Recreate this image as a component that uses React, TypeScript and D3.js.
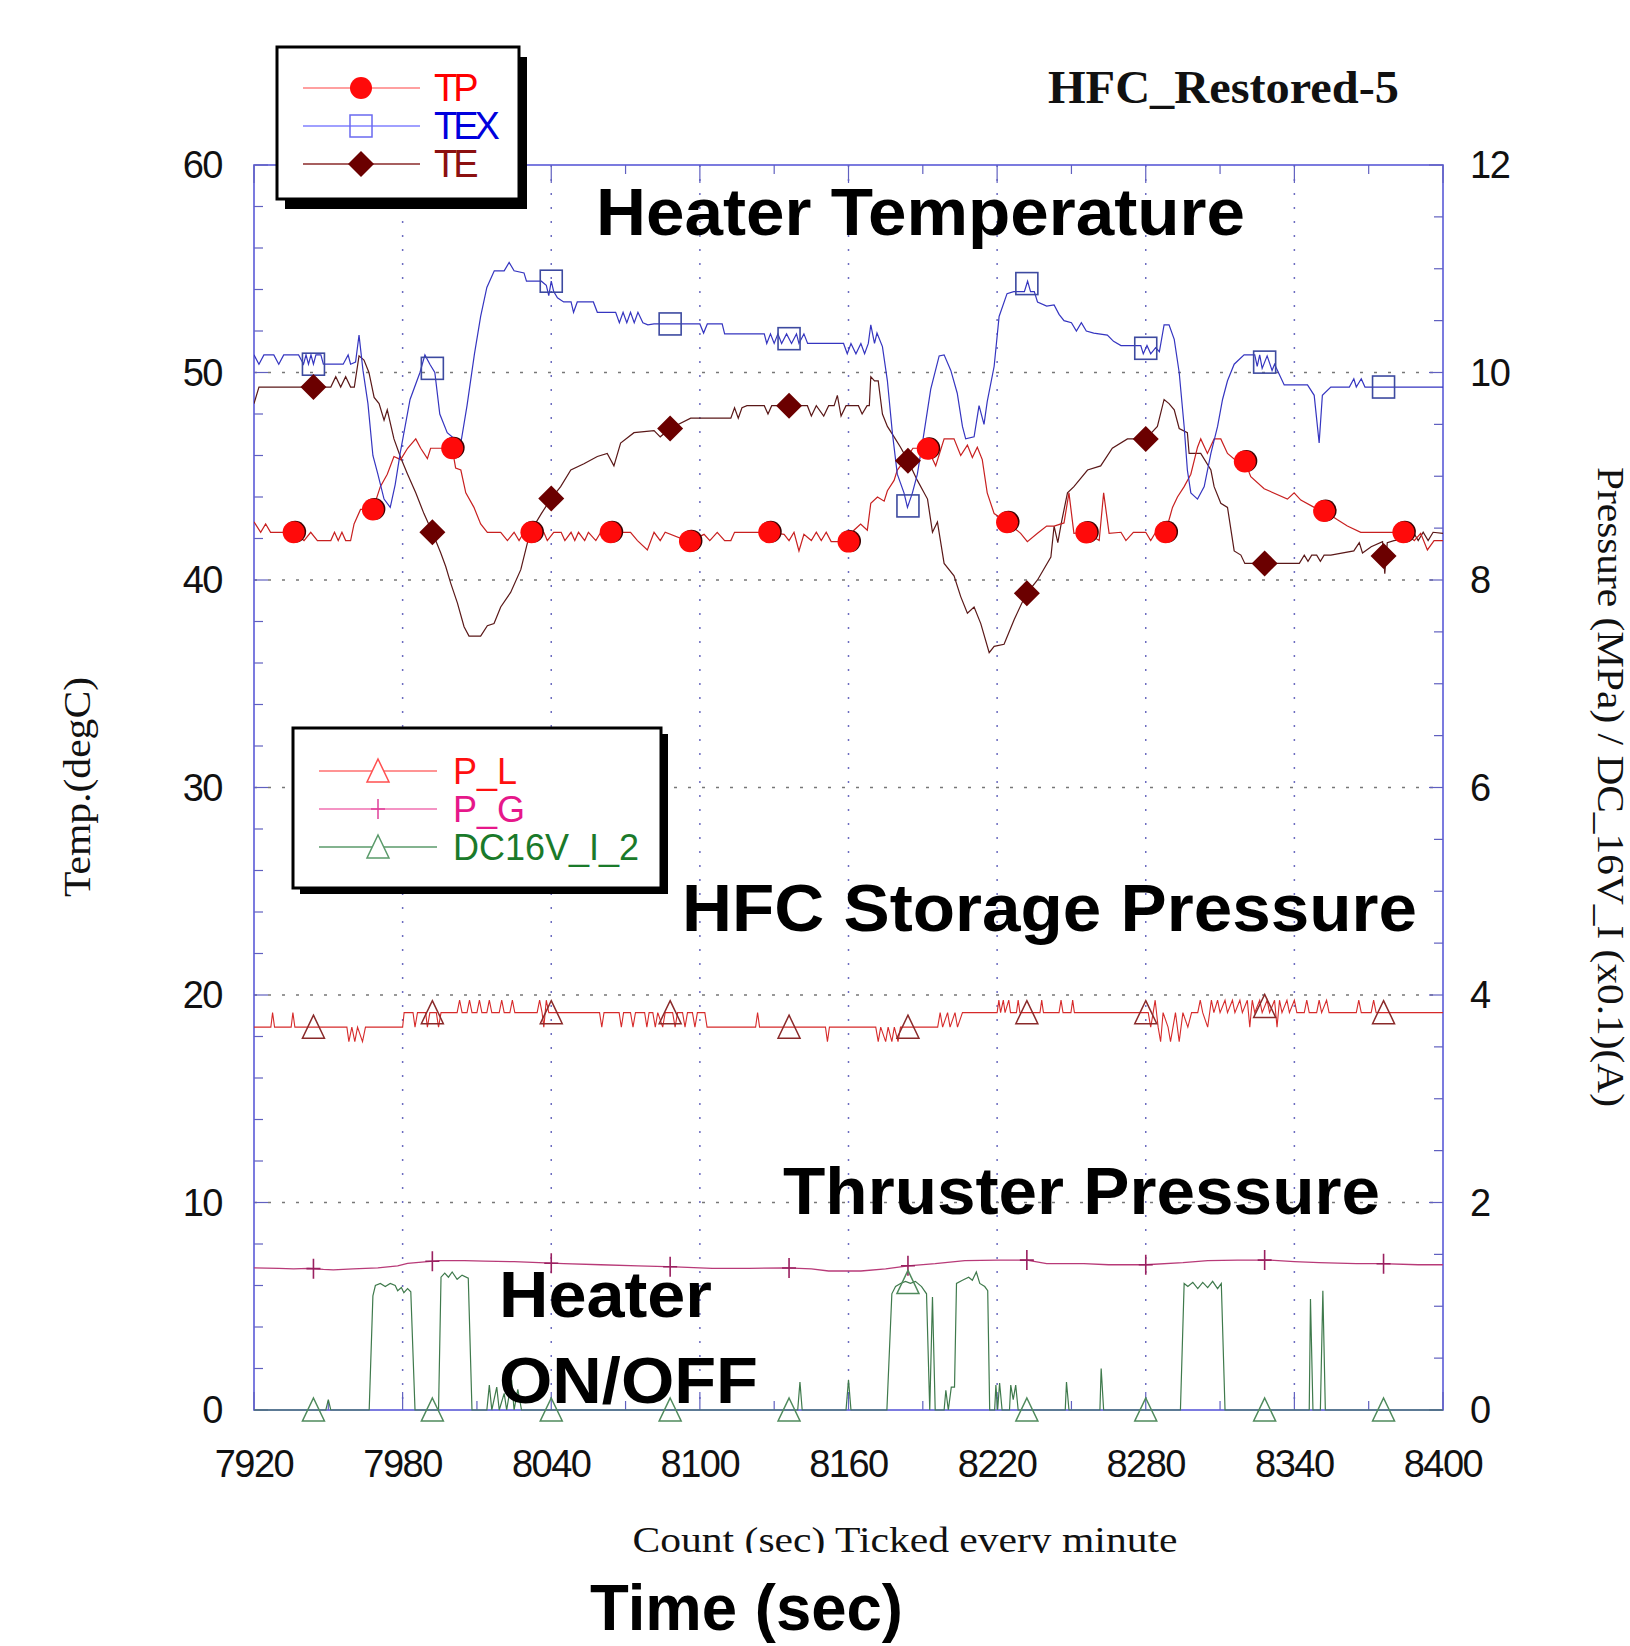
import React from "react";
import * as d3 from "d3";

const W = 1630;
const H = 1646;
const plot = { left: 254, right: 1443, top: 165, bottom: 1410 };

const xTicks = [7920, 7980, 8040, 8100, 8160, 8220, 8280, 8340, 8400];
const yLeftTicks = [0, 10, 20, 30, 40, 50, 60];
const yRightTicks = [0, 2, 4, 6, 8, 10, 12];

// marker times
const tpMarkTimes = [7936, 7968, 8000, 8032, 8064, 8096, 8128, 8160, 8192, 8224, 8256, 8288, 8320, 8352, 8384];
const markTimes = [7944, 7992, 8040, 8088, 8136, 8184, 8232, 8280, 8328, 8376];

type Pt = [number, number];

// TEX (degC)
const texSeries: Pt[] = [
  [7920, 50.85], [7922, 50.4], [7924, 50.85], [7928, 50.85], [7930, 50.4], [7932, 50.85], [7938, 50.85],
  [7940, 50.4], [7941, 50.85], [7942, 50.4], [7943, 50.85], [7944, 50.4], [7945, 50.85], [7947, 50.85],
  [7948, 50.4], [7956, 50.4], [7958, 50.85], [7959, 50.4], [7961, 50.5], [7962.4, 51.8], [7964, 50.1],
  [7966, 48.5], [7968, 46.0], [7970, 45.1], [7972.5, 43.9], [7975, 43.5], [7977, 44.6], [7979, 46.1],
  [7983, 48.7], [7987, 50.0], [7989, 50.85], [7991, 50.4], [7993, 50.0], [7995, 48.0], [7998, 47.1],
  [8001, 46.8], [8003.5, 46.6], [8006, 48.4], [8009, 50.9], [8011.5, 52.7], [8014, 54.1], [8017, 54.9],
  [8021, 54.9], [8023, 55.3], [8025, 54.9], [8029, 54.8], [8030, 54.4], [8036, 54.4], [8038, 54.2],
  [8039, 53.7], [8040, 54.4], [8041, 53.9], [8042.5, 53.6], [8045, 53.4], [8048, 53.4], [8049, 52.9],
  [8050.5, 53.4], [8057, 53.4], [8058.6, 52.9], [8066, 52.9], [8067.5, 52.4], [8069, 52.9], [8070.5, 52.4],
  [8072, 52.9], [8073.5, 52.4], [8075, 52.9], [8077, 52.4], [8079, 52.3], [8081.5, 52.34], [8100, 52.34],
  [8101.5, 51.9], [8103, 52.34], [8109, 52.34], [8110, 51.86], [8126, 51.86], [8127, 51.4], [8128.5, 51.86],
  [8130, 51.4], [8131.5, 51.86], [8133, 51.4], [8135, 51.86], [8137, 51.4], [8139, 51.86], [8140, 51.4],
  [8142, 51.86], [8143.5, 51.4], [8158, 51.4], [8159.5, 50.9], [8161, 51.4], [8163, 50.9], [8165, 51.4],
  [8166.5, 50.9], [8168, 51.4], [8169, 52.3], [8170.5, 51.4], [8171.5, 51.9], [8173.7, 51.25],
  [8175.7, 49.6], [8177.7, 47.1], [8179.7, 45.1], [8182.4, 44.2], [8183.8, 43.5], [8185.8, 44.2],
  [8187.8, 45.1], [8190.5, 47.1], [8193.2, 49.2], [8196.6, 50.8], [8198.6, 50.85], [8201.3, 50.1],
  [8203.9, 49.0], [8206, 47.4], [8207.3, 46.8], [8210.7, 46.9], [8212.7, 48.4], [8214.7, 47.5],
  [8216, 48.6], [8218.8, 50.3], [8220.8, 52.7], [8224, 53.8], [8226.7, 53.9], [8231, 53.9], [8232.3, 54.4],
  [8233.5, 53.9], [8235, 53.9], [8236.3, 53.4], [8240, 53.2], [8243, 53.26], [8245, 52.8], [8247, 52.5],
  [8250, 52.4], [8252, 52.0], [8254, 52.4], [8256, 52.0], [8259, 51.9], [8264.5, 51.8], [8267, 51.5],
  [8270, 51.3], [8278, 51.3], [8279, 50.9], [8280.5, 51.3], [8282, 50.9], [8284, 51.2], [8285.5, 51.0],
  [8287.4, 52.3], [8289.4, 52.3], [8291.5, 51.6], [8293.5, 50.0], [8295.5, 47.4], [8296.8, 45.3],
  [8298.2, 44.2], [8300.9, 43.9], [8303.6, 44.5], [8306.3, 46.1], [8309, 47.4], [8311, 48.7], [8313, 49.6],
  [8315.7, 50.4], [8319.7, 50.85], [8324, 50.85], [8325, 50.3], [8326, 50.85], [8327, 50.2], [8329, 50.8],
  [8331, 50.1], [8332, 50.4], [8335.9, 49.4], [8345.3, 49.4], [8348, 48.9], [8350, 46.6], [8351.3, 48.9],
  [8354.7, 49.3], [8362.2, 49.3], [8364, 49.7], [8365, 49.3], [8367, 49.7], [8368.5, 49.3], [8400, 49.3],
];

// TE (degC)
const teSeries: Pt[] = [
  [7920, 48.5], [7922, 49.3], [7951, 49.3], [7953, 49.8], [7955, 49.3], [7957, 49.8], [7959, 49.3],
  [7960.5, 49.3], [7962.4, 50.8], [7964.4, 50.6], [7966.4, 50.0], [7968.5, 48.8], [7970.5, 48.5],
  [7972.5, 47.7], [7973.8, 48.2], [7976.5, 46.8], [7979.2, 45.9], [7982, 45.1], [7985.3, 44.2],
  [7988.6, 43.2], [7992, 42.3], [7995.4, 41.3], [7997.4, 40.65], [7999.4, 39.85], [8002.1, 38.9],
  [8004.8, 37.75], [8006.8, 37.3], [8011.5, 37.3], [8014.2, 37.8], [8016.9, 37.9], [8019.6, 38.7],
  [8023.6, 39.4], [8027.7, 40.5], [8030.4, 41.8], [8033, 42.6], [8036, 43.2], [8039.8, 43.9],
  [8043.8, 44.5], [8047.9, 45.3], [8053.2, 45.6], [8058.6, 45.95], [8062.6, 46.1], [8065.3, 45.5],
  [8068, 46.6], [8073.4, 47.1], [8081.5, 47.2], [8084, 46.9], [8088, 47.3], [8096.3, 47.8], [8112.5, 47.8],
  [8114, 48.3], [8115.5, 47.8], [8117, 48.3], [8119, 48.4], [8126, 48.4], [8127.5, 48.0], [8129, 48.4],
  [8143.4, 48.4], [8145, 47.9], [8147, 48.4], [8150, 47.9], [8152, 48.4], [8154.2, 48.4], [8155.5, 48.9],
  [8157, 47.9], [8159, 48.4], [8164, 48.4], [8165.5, 48.0], [8167.5, 48.4], [8168.4, 48.4], [8169, 49.8],
  [8170.5, 49.6], [8172, 49.6], [8173.7, 48.0], [8175.7, 47.4], [8178.4, 46.9], [8181, 46.4],
  [8183.8, 45.8], [8187.8, 44.8], [8191.9, 43.9], [8193.9, 42.3], [8195.9, 42.8], [8198.6, 40.8],
  [8202.6, 40.2], [8205.3, 39.2], [8208, 38.4], [8210.7, 38.7], [8213.4, 37.9], [8216.8, 36.5],
  [8218.8, 36.8], [8222.8, 36.9], [8226.9, 38.1], [8231.6, 39.3], [8236.3, 40.0], [8241.7, 41.1],
  [8243, 42.6], [8244.5, 41.8], [8246, 42.8], [8248.4, 44.2], [8251, 44.5], [8256.5, 45.3],
  [8261.8, 45.5], [8266.5, 46.35], [8272.6, 46.8], [8280, 46.8], [8284.7, 47.4], [8287.4, 48.7],
  [8289.4, 48.5], [8291.5, 48.2], [8293.5, 47.3], [8296.8, 47.1], [8297.5, 46.1], [8302.2, 46.1],
  [8306.3, 45.3], [8307.6, 44.5], [8310.3, 43.7], [8313, 43.5], [8315.7, 41.4], [8318.4, 41.2],
  [8320, 40.8], [8342, 40.8], [8344, 41.2], [8345.5, 40.9], [8347, 41.2], [8349, 41.2], [8350.5, 40.9],
  [8352, 41.2], [8354.7, 41.2], [8364, 41.4], [8366.2, 41.8], [8367.5, 41.3], [8371, 41.6],
  [8375.6, 41.85], [8376.5, 40.3], [8377.5, 41.8], [8380.2, 41.9], [8385.6, 42.0], [8388, 42.3],
  [8390, 41.9], [8392, 42.3], [8394, 41.9], [8396, 42.3], [8400, 42.25],
];

// TP (degC)
const tpSeries: Pt[] = [
  [7920, 42.8], [7922.7, 42.3], [7924.7, 42.7], [7926.7, 42.3], [7936, 42.3], [7940.2, 41.9],
  [7942.9, 42.3], [7945.6, 41.9], [7951, 41.9], [7952.5, 42.3], [7954, 41.9], [7955.5, 42.3], [7957, 41.9],
  [7959, 41.9], [7960.4, 42.7], [7963, 43.4], [7968, 43.4], [7971, 44.5], [7973.8, 45.1], [7976.5, 45.95],
  [7979.2, 45.8], [7982, 46.35], [7985.3, 46.8], [7987.3, 46.35], [7990, 45.85], [7991.3, 46.35],
  [8000, 46.35], [8001.4, 45.4], [8003.5, 45.3], [8005.5, 44.2], [8008.8, 43.5], [8011.5, 42.7],
  [8014.2, 42.3], [8019.6, 42.3], [8022.3, 41.9], [8025, 42.3], [8027, 41.9], [8029, 42.3], [8037, 42.3],
  [8038.4, 41.9], [8041, 42.3], [8044, 42.3], [8045.5, 41.9], [8048, 42.3], [8049.5, 41.9], [8051, 42.3],
  [8053.5, 41.9], [8055, 42.3], [8058, 41.9], [8060, 42.3], [8072, 42.3], [8074.8, 41.9], [8078.8, 41.45],
  [8081.5, 42.3], [8084, 41.9], [8086, 42.3], [8095.6, 41.85], [8101.7, 42.2], [8104, 41.9], [8107, 42.3],
  [8110, 41.9], [8112.5, 41.9], [8114, 42.3], [8128, 42.3], [8134, 42.2], [8136, 41.9], [8138, 42.3],
  [8140, 41.4], [8142, 42.2], [8145, 41.9], [8147, 42.3], [8149, 41.9], [8151, 42.3], [8153, 41.85],
  [8160.2, 41.85], [8162.2, 42.4], [8164.9, 42.7], [8167.6, 42.4], [8169, 43.7], [8171.7, 44.0],
  [8174.4, 43.8], [8175.7, 44.3], [8178.4, 44.8], [8179.7, 45.3], [8183.8, 45.95], [8186, 46.35],
  [8191.9, 46.35], [8195.2, 45.5], [8198.6, 46.8], [8202.6, 46.8], [8205.3, 46.0], [8208, 46.5],
  [8210, 45.9], [8212, 46.4], [8214, 45.8], [8216, 44.2], [8218.8, 43.2], [8223.8, 42.8], [8229.5, 42.25],
  [8232.2, 41.85], [8236.3, 42.25], [8240, 42.6], [8243, 42.6], [8247, 42.75], [8249, 44.2], [8251, 42.25],
  [8255.8, 42.3], [8261.2, 41.9], [8263, 44.2], [8265.2, 42.25], [8270, 42.3], [8272, 41.9], [8275, 42.3],
  [8280, 42.3], [8282, 41.9], [8284, 42.3], [8288, 42.3], [8290.8, 43.5], [8292.8, 44.0], [8295.5, 44.5],
  [8298.2, 45.1], [8300.9, 46.4], [8302.2, 46.8], [8304.9, 46.1], [8307.6, 46.8], [8310.3, 46.8],
  [8313, 46.1], [8316, 45.8], [8319.7, 45.8], [8322.4, 44.98], [8327.8, 44.4], [8337.2, 43.9],
  [8339.9, 44.2], [8342.6, 43.85], [8348, 43.5], [8351.7, 43.35], [8357.4, 42.9], [8361.4, 42.6],
  [8366.8, 42.3], [8384.6, 42.3], [8388.4, 41.9], [8391, 42.25], [8393.7, 41.45], [8396.4, 41.9],
  [8400, 41.9],
];

// P_L (MPa)
const plSeries: Pt[] = [
  [7920, 3.69], [7926.8, 3.69], [7927.5, 3.83], [7928.3, 3.69], [7935, 3.69], [7935.7, 3.83], [7936.5, 3.69],
  [7957.5, 3.69], [7958.3, 3.55], [7959.5, 3.69], [7960.7, 3.55], [7961.8, 3.69], [7963.8, 3.55], [7965, 3.69],
  [7980, 3.69], [7980.6, 3.83], [7984.2, 3.83], [7985, 3.69], [7986, 3.83], [7989.3, 3.83], [7990, 3.69],
  [7991, 3.83], [7993.6, 3.83], [7994.5, 3.69], [7995.5, 3.83], [8002, 3.83], [8003, 3.95], [8004, 3.83],
  [8006, 3.83], [8007, 3.95], [8008, 3.83], [8010, 3.83], [8011, 3.95], [8012, 3.83], [8014, 3.83],
  [8015, 3.95], [8016, 3.83], [8019, 3.83], [8020, 3.95], [8021, 3.83], [8023.3, 3.83], [8024.3, 3.95],
  [8025.3, 3.83], [8034.3, 3.83], [8035.3, 3.95], [8036.3, 3.83], [8037, 3.69], [8038, 3.95], [8039, 3.83],
  [8059.5, 3.83], [8060.4, 3.69], [8061.3, 3.83], [8067.4, 3.83], [8068.3, 3.69], [8069.2, 3.83],
  [8072, 3.83], [8073, 3.69], [8074, 3.83], [8077.7, 3.83], [8078.6, 3.69], [8079.5, 3.83], [8081, 3.83],
  [8082, 3.69], [8083, 3.83], [8085, 3.69], [8086, 3.83], [8089, 3.83], [8090, 3.69], [8091, 3.83],
  [8093, 3.83], [8094, 3.69], [8095, 3.83], [8097, 3.83], [8098, 3.69], [8099, 3.83], [8102, 3.83],
  [8102.9, 3.69], [8122.5, 3.69], [8123.3, 3.83], [8124.1, 3.69], [8150.7, 3.69], [8151.5, 3.55],
  [8152.3, 3.69], [8171, 3.69], [8172, 3.55], [8173, 3.69], [8175, 3.55], [8176, 3.69], [8177.5, 3.55],
  [8178.5, 3.69], [8180, 3.55], [8181, 3.69], [8196, 3.69], [8197, 3.83], [8198, 3.69], [8200, 3.83],
  [8201, 3.69], [8203, 3.83], [8204, 3.69], [8206, 3.83], [8220, 3.83], [8220.7, 3.95], [8221.4, 3.83],
  [8222.5, 3.95], [8223.2, 3.83], [8224.7, 3.95], [8225.4, 3.83], [8227.8, 3.83], [8228.5, 3.95],
  [8229.2, 3.83], [8237.3, 3.83], [8238, 3.95], [8238.7, 3.83], [8245, 3.83], [8245.8, 3.95], [8246.6, 3.83],
  [8249.8, 3.83], [8250.5, 3.95], [8251.2, 3.83], [8281, 3.83], [8282, 3.69], [8283, 3.83], [8283.8, 3.95],
  [8285, 3.69], [8286, 3.55], [8287, 3.83], [8289, 3.69], [8290, 3.55], [8292, 3.83], [8293.5, 3.55],
  [8295, 3.83], [8297, 3.69], [8298.5, 3.83], [8301, 3.83], [8302, 3.95], [8303, 3.83], [8305, 3.69],
  [8306.5, 3.95], [8307.5, 3.83], [8309, 3.95], [8310, 3.83], [8312, 3.95], [8313, 3.83], [8315, 3.95],
  [8316, 3.83], [8318, 3.95], [8319, 3.83], [8321, 3.95], [8322, 3.69], [8323, 3.95], [8324, 3.83],
  [8326, 3.95], [8327, 3.83], [8329, 3.95], [8330, 3.83], [8332, 3.95], [8333, 3.69], [8334, 3.95],
  [8335, 3.83], [8337, 3.95], [8338, 3.83], [8340, 3.95], [8341, 3.83], [8344, 3.83], [8345, 3.95],
  [8346, 3.83], [8349, 3.83], [8350, 3.95], [8351, 3.83], [8353, 3.95], [8354, 3.83], [8365, 3.83],
  [8366, 3.95], [8367, 3.83], [8371, 3.83], [8372, 3.95], [8373, 3.83], [8400, 3.83],
];

// P_G (MPa)
const pgSeries: Pt[] = [
  [7920, 1.37], [7930, 1.366], [7936, 1.36], [7942, 1.366], [7948, 1.355], [7952, 1.35], [7960, 1.36],
  [7970, 1.37], [7978, 1.39], [7982, 1.414], [7990, 1.43], [7995, 1.44], [8005, 1.44], [8013, 1.435],
  [8025, 1.43], [8035, 1.42], [8045, 1.41], [8060, 1.4], [8075, 1.39], [8090, 1.38], [8105, 1.366],
  [8120, 1.366], [8135, 1.37], [8145, 1.36], [8152, 1.34], [8165, 1.34], [8175, 1.36], [8184, 1.39],
  [8195, 1.41], [8207, 1.44], [8220, 1.445], [8232, 1.445], [8240, 1.41], [8255, 1.41], [8265, 1.4],
  [8280, 1.4], [8295, 1.42], [8305, 1.44], [8317, 1.445], [8330, 1.445], [8340, 1.43], [8350, 1.42],
  [8365, 1.41], [8375, 1.41], [8390, 1.4], [8400, 1.4],
];

// DC16V_I_2 (x0.1 A)
const dcSeries: Pt[] = [
  [7920, 0], [7949, 0], [7950, 0.1], [7951, 0], [7966.5, 0], [7968, 1.1], [7969, 1.2], [7971, 1.22],
  [7973, 1.19], [7975, 1.22], [7977, 1.2], [7978, 1.15], [7979.5, 1.18], [7980.5, 1.13], [7982, 1.17],
  [7983.3, 1.14], [7985, 0], [7994.5, 0], [7995.5, 1.28], [7997, 1.32], [7998.5, 1.28], [8000, 1.33],
  [8002, 1.26], [8004, 1.3], [8006.5, 1.27], [8008, 0], [8014, 0], [8015, 0.24], [8016, 0], [8018, 0.22],
  [8019, 0], [8021, 0.16], [8022, 0], [8024, 0.29], [8025, 0], [8026.5, 0.2], [8028, 0], [8139.5, 0],
  [8140.4, 0.27], [8141.3, 0], [8159, 0], [8160, 0.29], [8161, 0], [8175.5, 0], [8177.5, 1.12],
  [8179, 1.19], [8181, 1.22], [8183, 1.24], [8185, 1.22], [8187, 1.24], [8189.5, 1.19], [8191.5, 1.12],
  [8192.8, 0], [8193.9, 1.09], [8195, 0], [8198.6, 0], [8199.3, 0.19], [8200.3, 0], [8201.5, 0.22],
  [8202.8, 0.22], [8203.6, 1.22], [8206, 1.25], [8208.5, 1.28], [8210, 1.25], [8211.6, 1.33], [8213, 1.22],
  [8215, 1.19], [8216.2, 1.15], [8217, 0], [8219, 0], [8219.5, 0.24], [8220.2, 0], [8221, 0.26], [8222, 0],
  [8225, 0], [8225.5, 0.24], [8226.5, 0.1], [8227.5, 0.24], [8228.5, 0], [8247.5, 0], [8248, 0.27],
  [8249, 0], [8261.5, 0], [8262, 0.4], [8263, 0], [8294, 0], [8295.5, 1.22], [8297, 1.19], [8299, 1.23],
  [8301, 1.17], [8303, 1.23], [8305, 1.18], [8307, 1.24], [8309, 1.17], [8310.5, 1.22], [8312, 0],
  [8346, 0], [8346.5, 1.07], [8347.5, 0], [8350.5, 0], [8351.5, 1.15], [8352.5, 0], [8400, 0],
];

const x = d3.scaleLinear().domain([7920, 8400]).range([plot.left, plot.right]);
const yL = d3.scaleLinear().domain([0, 60]).range([plot.bottom, plot.top]);
const yR = d3.scaleLinear().domain([0, 12]).range([plot.bottom, plot.top]);

const bis = d3.bisector((d: Pt) => d[0]).left;
function valueAt(s: Pt[], t: number) {
  const i = bis(s, t);
  if (i <= 0) return s[0][1];
  if (i >= s.length) return s[s.length - 1][1];
  const a = s[i - 1];
  const b = s[i];
  return a[1] + ((t - a[0]) / (b[0] - a[0])) * (b[1] - a[1]);
}

const lineL = d3.line<Pt>().x((d) => x(d[0])).y((d) => yL(d[1]));
const lineR = d3.line<Pt>().x((d) => x(d[0])).y((d) => yR(d[1]));

const sans = "'Liberation Sans', Arial, Helvetica, sans-serif";
const serif = "'Liberation Serif', 'Times New Roman', serif";

const Circle = ({ cx, cy }: { cx: number; cy: number }) => (
  <g>
    <circle cx={cx + 1.5} cy={cy - 0.5} r={11} fill="#3a0000" />
    <circle cx={cx} cy={cy} r={11} fill="#ff0a0a" />
  </g>
);
const Square = ({ cx, cy }: { cx: number; cy: number }) => (
  <rect x={cx - 11} y={cy - 11} width={22} height={22} fill="none" stroke="#3d4aa0" strokeWidth={1.6} />
);
const Diamond = ({ cx, cy }: { cx: number; cy: number }) => (
  <path d={`M${cx},${cy - 13}L${cx + 13},${cy}L${cx},${cy + 13}L${cx - 13},${cy}Z`} fill="#6b0000" />
);
const Tri = ({ cx, cy, color }: { cx: number; cy: number; color: string }) => (
  <path d={`M${cx},${cy - 12}L${cx + 11},${cy + 11}L${cx - 11},${cy + 11}Z`} fill="none" stroke={color} strokeWidth={1.5} />
);
const Plus = ({ cx, cy, color }: { cx: number; cy: number; color: string }) => (
  <path d={`M${cx - 7},${cy}H${cx + 7}M${cx},${cy - 10}V${cy + 10}`} stroke={color} strokeWidth={1.6} fill="none" />
);

export default function App() {
  const minorLeft = d3.range(0, 61, 2);
  const minorRight = d3.range(0, 12.01, 0.5);
  const topTicks = d3.range(7920, 8401, 30);
  const gridX = xTicks.slice(1, -1);
  const gridY = yLeftTicks.slice(1, -1);

  return (
    <svg width={W} height={H} style={{ position: "absolute", left: 0, top: 0, background: "#fff" }}>
      <defs>
        <clipPath id="plotClip">
          <rect x={plot.left} y={plot.top - 20} width={plot.right - plot.left} height={plot.bottom - plot.top + 40} />
        </clipPath>
        <clipPath id="labelClip">
          <rect x={0} y={1500} width={W} height={53} />
        </clipPath>
      </defs>

      {/* grid */}
      {gridX.map((t) => (
        <line key={"gx" + t} x1={x(t)} x2={x(t)} y1={plot.top} y2={plot.bottom} stroke="#6c6cc0" strokeWidth={1.5} strokeDasharray="2 12" />
      ))}
      {gridY.map((v) => (
        <line key={"gy" + v} x1={plot.left} x2={plot.right} y1={yL(v)} y2={yL(v)} stroke="#777" strokeWidth={1.5} strokeDasharray="3 11" />
      ))}

      {/* frame + ticks */}
      <rect x={plot.left} y={plot.top} width={plot.right - plot.left} height={plot.bottom - plot.top} fill="none" stroke="#5a5ad8" strokeWidth={1.6} />
      {minorLeft.map((v) => (
        <line key={"ml" + v} x1={plot.left} x2={plot.left + (v % 10 === 0 ? 14 : 9)} y1={yL(v)} y2={yL(v)} stroke="#6060c0" strokeWidth={1.2} />
      ))}
      {minorRight.map((v) => (
        <line key={"mr" + v} x1={plot.right} x2={plot.right - (v % 2 === 0 ? 14 : 9)} y1={yR(v)} y2={yR(v)} stroke="#6060c0" strokeWidth={1.2} />
      ))}
      {topTicks.map((t) => (
        <g key={"tt" + t}>
          <line x1={x(t)} x2={x(t)} y1={plot.top} y2={plot.top + ((t - 7920) % 60 === 0 ? 18 : 9)} stroke="#6060c0" strokeWidth={1.2} />
          <line x1={x(t)} x2={x(t)} y1={plot.bottom} y2={plot.bottom - ((t - 7920) % 60 === 0 ? 18 : 9)} stroke="#6060c0" strokeWidth={1.2} />
        </g>
      ))}

      {/* series */}
      <g clipPath="url(#plotClip)">
        <path d={lineR(pgSeries) ?? ""} fill="none" stroke="#b83a78" strokeWidth={1.3} />
        <path d={lineR(plSeries) ?? ""} fill="none" stroke="#d62a2a" strokeWidth={1.1} />
        <path d={lineR(dcSeries) ?? ""} fill="none" stroke="#3f7a4c" strokeWidth={1.2} />
        <path d={lineL(teSeries) ?? ""} fill="none" stroke="#5a1818" strokeWidth={1.2} />
        <path d={lineL(tpSeries) ?? ""} fill="none" stroke="#c82020" strokeWidth={1.2} />
        <path d={lineL(texSeries) ?? ""} fill="none" stroke="#3535c0" strokeWidth={1.2} />

        {markTimes.map((t) => (
          <g key={"m" + t}>
            <Tri cx={x(t)} cy={yR(valueAt(plSeries, t))} color="#8a2a2a" />
            <Plus cx={x(t)} cy={yR(valueAt(pgSeries, t))} color="#9a2060" />
            <Tri cx={x(t)} cy={yR(valueAt(dcSeries, t))} color="#4f8a5c" />
            <Square cx={x(t)} cy={yL(valueAt(texSeries, t))} />
            <Diamond cx={x(t)} cy={yL(valueAt(teSeries, t))} />
          </g>
        ))}
        {tpMarkTimes.map((t) => (
          <Circle key={"tp" + t} cx={x(t)} cy={yL(valueAt(tpSeries, t))} />
        ))}
      </g>

      {/* tick labels */}
      <g fontFamily={sans} fontSize={38} letterSpacing={-1.5} fill="#111">
        {yLeftTicks.map((v) => (
          <text key={"yl" + v} x={222} y={yL(v) + 13} textAnchor="end">{v}</text>
        ))}
        {yRightTicks.map((v) => (
          <text key={"yr" + v} x={1470} y={yR(v) + 13}>{v}</text>
        ))}
        {xTicks.map((t) => (
          <text key={"xl" + t} x={x(t)} y={1477} textAnchor="middle">{t}</text>
        ))}
      </g>

      {/* axis titles */}
      <text transform="translate(90,787) rotate(-90)" textAnchor="middle" fontFamily={serif} fontSize={38} textLength={220} lengthAdjust="spacingAndGlyphs" fill="#111">
        Temp.(degC)
      </text>
      <text transform="translate(1598,787) rotate(90)" textAnchor="middle" fontFamily={serif} fontSize={37} textLength={640} lengthAdjust="spacingAndGlyphs" fill="#111">
        Pressure (MPa) / DC_16V_I (x0.1)(A)
      </text>
      <g clipPath="url(#labelClip)">
        <text x={905} y={1552} textAnchor="middle" fontFamily={serif} fontSize={35} textLength={545} lengthAdjust="spacingAndGlyphs" fill="#111">
          Count (sec) Ticked every minute
        </text>
      </g>
      <text x={1048} y={103} fontFamily={serif} fontWeight="bold" fontSize={47} textLength={351} lengthAdjust="spacingAndGlyphs" fill="#111">
        HFC_Restored-5
      </text>

      {/* annotations */}
      <g fontFamily={sans} fontWeight="bold" fill="#000">
        <text x={596} y={235} fontSize={66} textLength={649} lengthAdjust="spacingAndGlyphs">Heater Temperature</text>
        <text x={682} y={931} fontSize={67} textLength={735} lengthAdjust="spacingAndGlyphs">HFC Storage Pressure</text>
        <text x={783} y={1214} fontSize={66} textLength={597} lengthAdjust="spacingAndGlyphs">Thruster Pressure</text>
        <text x={499} y={1317} fontSize={65} textLength={213} lengthAdjust="spacingAndGlyphs">Heater</text>
        <text x={499} y={1403} fontSize={65} textLength={259} lengthAdjust="spacingAndGlyphs">ON/OFF</text>
        <text x={590} y={1630} fontSize={65} textLength={313} lengthAdjust="spacingAndGlyphs">Time (sec)</text>
      </g>

      {/* legend 1 */}
      <g>
        <rect x={285} y={57} width={242} height={152} fill="#000" />
        <rect x={277} y={47} width={242} height={152} fill="#fff" stroke="#000" strokeWidth={3} />
        <line x1={303} x2={420} y1={88} y2={88} stroke="#ff8080" strokeWidth={1.5} />
        <circle cx={361} cy={88} r={11} fill="#ff0a0a" />
        <line x1={303} x2={420} y1={126} y2={126} stroke="#8080ff" strokeWidth={1.5} />
        <rect x={350} y={115} width={22} height={22} fill="none" stroke="#6a6af0" strokeWidth={1.5} />
        <line x1={303} x2={420} y1={164} y2={164} stroke="#8a2a2a" strokeWidth={1.5} />
        <path d="M361,151L374,164L361,177L348,164Z" fill="#6b0000" />
        <g fontFamily={sans} fontSize={38} letterSpacing={-4}>
          <text x={434} y={101} fill="#ff0000">TP</text>
          <text x={434} y={139} fill="#0000dd">TEX</text>
          <text x={434} y={177} fill="#8b1010">TE</text>
        </g>
      </g>

      {/* legend 2 */}
      <g>
        <rect x={300} y={734} width={368} height={160} fill="#000" />
        <rect x={293} y={728} width={368} height={160} fill="#fff" stroke="#000" strokeWidth={3} />
        <line x1={319} x2={437} y1={771} y2={771} stroke="#ff7070" strokeWidth={1.5} />
        <path d="M378,759L389,782L367,782Z" fill="#fff" stroke="#ff5050" strokeWidth={1.5} />
        <line x1={319} x2={437} y1={809} y2={809} stroke="#f070b0" strokeWidth={1.5} />
        <path d="M371,809H385M378,799V819" stroke="#e0409a" strokeWidth={1.5} />
        <line x1={319} x2={437} y1={847} y2={847} stroke="#5a9a6a" strokeWidth={1.5} />
        <path d="M378,835L389,858L367,858Z" fill="#fff" stroke="#5a9a6a" strokeWidth={1.5} />
        <g fontFamily={sans} fontSize={36}>
          <text x={453} y={784} fill="#ff1010">P_L</text>
          <text x={453} y={822} fill="#e6178a">P_G</text>
          <text x={453} y={860} fill="#1a7a2a">DC16V_I_2</text>
        </g>
      </g>
    </svg>
  );
}
